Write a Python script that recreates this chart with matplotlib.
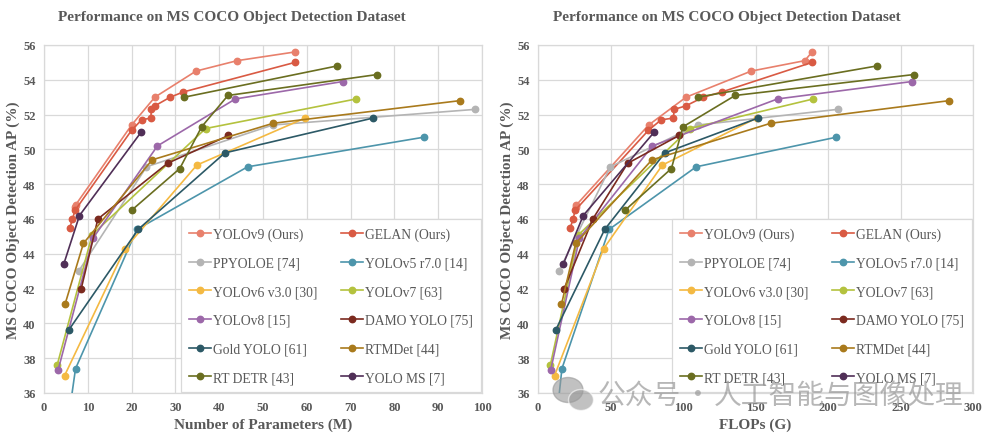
import numpy as np
import matplotlib
matplotlib.use("Agg")
import matplotlib.pyplot as plt
from matplotlib.lines import Line2D
from matplotlib.patches import Ellipse

nan = np.nan

# ---------------- data ----------------
labels = ["YOLOv9 (Ours)", "GELAN (Ours)", "PPYOLOE [74]", "YOLOv5 r7.0 [14]",
          "YOLOv6 v3.0 [30]", "YOLOv7 [63]", "YOLOv8 [15]", "DAMO YOLO [75]",
          "Gold YOLO [61]", "RTMDet [44]", "RT DETR [43]", "YOLO MS [7]"]
colors = ["#E8806C", "#D95A43", "#B4B4B4", "#4D95AB",
          "#F4B942", "#B4C23E", "#9C68A9", "#7B2A1F",
          "#2C5966", "#A97A1C", "#6A6E20", "#502F57"]

yolov9_params = [7.15, 7.2, 20.0, 25.3, 34.7, 44.1, 57.3]
yolov9_flops = [26.0, 26.4, 76.3, 102.1, 147.0, 184.0, 189.0]
yolov9_ap = [46.7, 46.8, 51.4, 53.0, 54.5, 55.1, 55.6]

gelan_params = [5.9, 6.5, 7.1, 20.0, 22.3, 24.4, 24.5, 25.3, 28.8, 31.8, 57.3]
gelan_flops = [22.3, 24.2, 25.6, 76.2, 84.9, 93.4, 93.9, 101.9, 114.0, 126.7, 189.0]
gelan_ap = [45.5, 46.0, 46.5, 51.1, 51.7, 51.8, 52.3, 52.5, 53.0, 53.3, 55.0]

ppyoloe_params = [7.9, 23.4, 52.2, 98.4]
ppyoloe_flops = [14.4, 49.9, 110.1, 206.6]
ppyoloe_ap = [43.0, 49.0, 51.4, 52.3]

yolov5_params = [1.9, 7.2, 21.2, 46.5, 86.7]
yolov5_flops = [4.5, 16.5, 49.0, 109.1, 205.7]
yolov5_ap = [28.0, 37.4, 45.4, 49.0, 50.7]

yolov6_params = [4.7, 18.5, 34.9, 59.6]
yolov6_flops = [11.4, 45.3, 85.8, 150.7]
yolov6_ap = [37.0, 44.3, 49.1, 51.8]

yolov7_params = [3.0, 11.0, 36.9, 71.3]
yolov7_flops = [8.5, 28.0, 104.7, 189.9]
yolov7_ap = [37.6, 45.1, 51.2, 52.9]

yolov8_params = [3.2, 11.2, 25.9, 43.7, 68.2]
yolov8_flops = [8.7, 28.6, 78.9, 165.2, 257.8]
yolov8_ap = [37.3, 44.9, 50.2, 52.9, 53.9]

damo_params = [8.5, 12.3, 28.2, 42.1]
damo_flops = [18.1, 37.8, 61.8, 97.3]
damo_ap = [42.0, 46.0, 49.2, 50.8]

gold_params = [5.6, 21.5, 41.3, 75.1]
gold_flops = [12.1, 46.0, 87.5, 151.7]
gold_ap = [39.6, 45.4, 49.8, 51.8]

rtmdet_params = [4.8, 9.0, 24.7, 52.3, 94.9]
rtmdet_flops = [16.2, 26.0, 78.6, 160.4, 283.4]
rtmdet_ap = [41.1, 44.6, 49.4, 51.5, 52.8]

rtdetr_params = [20.0, 31.0, 36.0, 42.0, 76.0, nan, 32.0, 67.0]
rtdetr_flops = [60.0, 92.0, 100.0, 136.0, 259.0, nan, 110.0, 234.0]
rtdetr_ap = [46.5, 48.9, 51.3, 53.1, 54.3, nan, 53.0, 54.8]

yoloms_params = [4.5, 8.1, 22.2]
yoloms_flops = [17.4, 31.2, 80.2]
yoloms_ap = [43.4, 46.2, 51.0]

params_list = [yolov9_params, gelan_params, ppyoloe_params, yolov5_params, yolov6_params,
               yolov7_params, yolov8_params, damo_params, gold_params, rtmdet_params,
               rtdetr_params, yoloms_params]
flops_list = [yolov9_flops, gelan_flops, ppyoloe_flops, yolov5_flops, yolov6_flops,
              yolov7_flops, yolov8_flops, damo_flops, gold_flops, rtmdet_flops,
              rtdetr_flops, yoloms_flops]
ap_list = [yolov9_ap, gelan_ap, ppyoloe_ap, yolov5_ap, yolov6_ap,
           yolov7_ap, yolov8_ap, damo_ap, gold_ap, rtmdet_ap,
           rtdetr_ap, yoloms_ap]

title = "Performance on MS COCO Object Detection Dataset"
ylabel = "MS COCO Object Detection AP (%)"
xlabels = ["Number of Parameters (M)", "FLOPs (G)"]
xticks_left = [0, 10, 20, 30, 40, 50, 60, 70, 80, 90, 100]
xticks_right = [0, 50, 100, 150, 200, 250, 300]
yticks = [36, 38, 40, 42, 44, 46, 48, 50, 52, 54, 56]

# ---------------- style ----------------
plt.rcParams['font.family'] = ['Liberation Serif', 'DejaVu Serif']
txt = "#595959"
grid_c = "#D9D9D9"

W, H = 996, 439
fig = plt.figure(figsize=(W / 100, H / 100), dpi=100)


def fx(px):
    return px / W


def fy(py):
    return 1 - py / H


def make_axes(left_px, right_px, xs_list, xticks, xlabel, title_cx):
    ax = fig.add_axes([fx(left_px), fy(394), (right_px - left_px) / W, (394 - 46) / H])
    for xs, ys, c in zip(xs_list, ap_list, colors):
        ax.plot(xs, ys, color=c, lw=1.2, marker='o', ms=4.6, mec=c, mfc=c, zorder=3)
    ax.set_xlim(xticks[0], xticks[-1])
    ax.set_ylim(36, 56)
    ax.set_xticks(xticks)
    ax.set_yticks(yticks)
    ax.grid(True, color=grid_c, lw=0.9)
    ax.set_axisbelow(True)
    for s in ax.spines.values():
        s.set_color(grid_c)
        s.set_linewidth(0.9)
    ax.tick_params(length=0, colors=txt, labelsize=9, pad=6)
    for lab in ax.get_xticklabels() + ax.get_yticklabels():
        lab.set_fontweight('bold')
    ax.set_xlabel(xlabel, fontsize=11, fontweight='bold', color=txt, labelpad=3)
    ax.set_ylabel(ylabel, fontsize=11, fontweight='bold', color=txt, labelpad=2)
    fig.text(fx(title_cx), fy(18), title, ha='center', va='center', fontsize=11,
             fontweight='bold', color=txt)
    # legend (row-major order like the reference)
    handles = [Line2D([0], [0], color=c, lw=1.2, marker='o', ms=4.6) for c in colors]
    order = [0, 2, 4, 6, 8, 10, 1, 3, 5, 7, 9, 11]
    leg = ax.legend([handles[i] for i in order], [labels[i] for i in order], ncol=2,
                    loc='lower right', bbox_to_anchor=(1.0, 0.0), borderaxespad=0.05,
                    fontsize=9.8, frameon=True, fancybox=False, framealpha=1,
                    edgecolor=grid_c, handlelength=1.6, handletextpad=0.15,
                    columnspacing=1.75, labelspacing=1.15, borderpad=0.6)
    leg.get_frame().set_linewidth(0.9)
    for t in leg.get_texts():
        t.set_color(txt)
    leg.set_zorder(5)
    return ax


ax1 = make_axes(44, 482, params_list, xticks_left, xlabels[0], 232)
ax2 = make_axes(538, 973, flops_list, xticks_right, xlabels[1], 727)

# watermark
wm_family = ['Noto Sans CJK SC', 'DejaVu Sans']
wm_c = "#999999"
e1 = Ellipse((fx(568), fy(391)), 30 / W, 25 / H, transform=fig.transFigure,
             color=wm_c, alpha=0.6, zorder=10)
e2 = Ellipse((fx(581), fy(401)), 25 / W, 21 / H, transform=fig.transFigure,
             color=wm_c, alpha=0.6, zorder=11, ec='white', lw=1)
fig.patches.extend([e1, e2])
fig.text(fx(598), fy(396), "公众号", family=wm_family, fontsize=20, color=wm_c,
         alpha=0.7, ha='left', va='center', zorder=12)
fig.text(fx(698), fy(396), "·", family=wm_family, fontsize=20, color=wm_c,
         alpha=0.7, ha='center', va='center', zorder=12)
fig.text(fx(714), fy(396), "人工智能与图像处理", family=wm_family, fontsize=20, color=wm_c,
         alpha=0.7, ha='left', va='center', zorder=12)

fig.savefig("out.png", dpi=100)
